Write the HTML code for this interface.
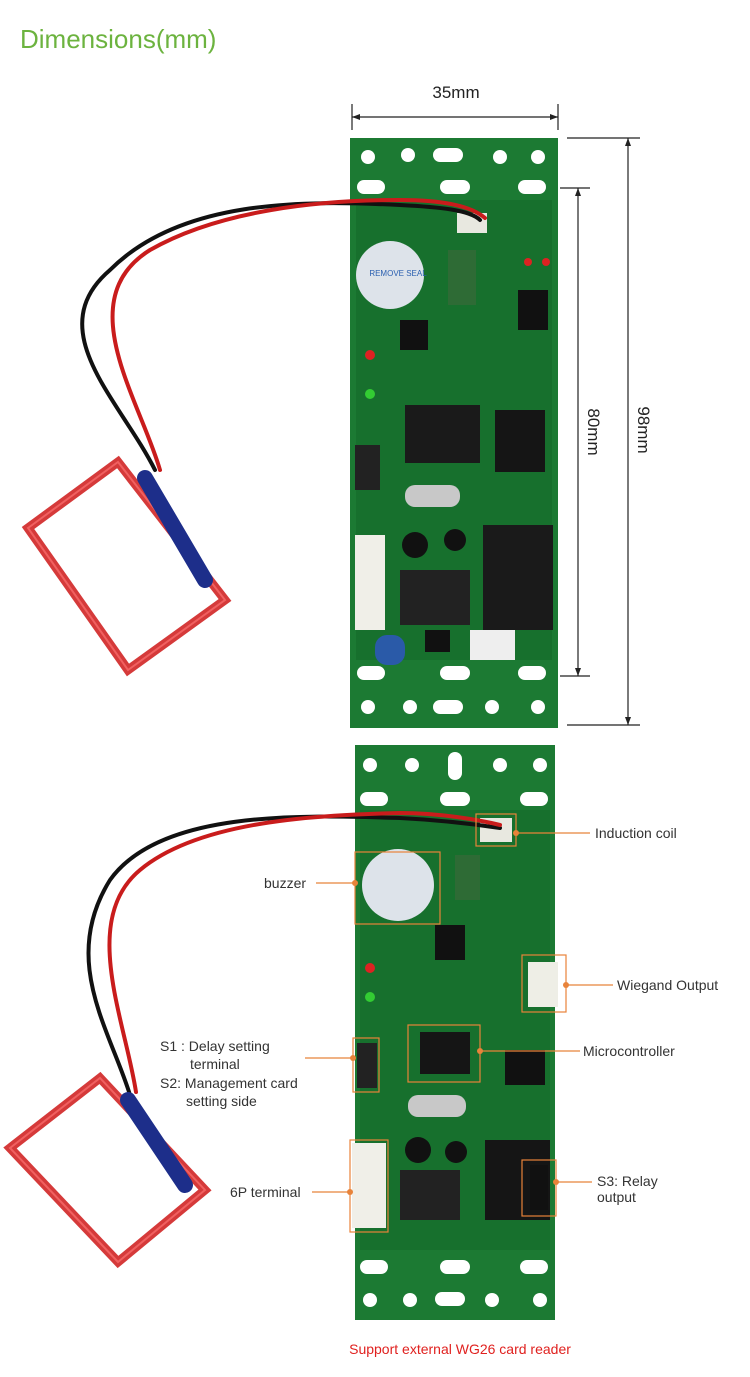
<!DOCTYPE html>
<html><head><meta charset="utf-8"><style>
html,body{margin:0;padding:0;background:#fff;}
svg{display:block;font-family:"Liberation Sans",sans-serif;}
</style></head><body>
<svg width="750" height="1377" viewBox="0 0 750 1377" xmlns="http://www.w3.org/2000/svg">
<text x="20" y="48" font-size="26" fill="#6cb33f">Dimensions(mm)</text>

<!-- dimension lines -->
<g stroke="#222" stroke-width="1.2" fill="none">
<line x1="352" y1="104" x2="352" y2="130"/><line x1="558" y1="104" x2="558" y2="130"/>
<line x1="352" y1="117" x2="558" y2="117"/>
<line x1="567" y1="138" x2="640" y2="138"/><line x1="567" y1="725" x2="640" y2="725"/>
<line x1="628" y1="138" x2="628" y2="725"/>
<line x1="560" y1="188" x2="590" y2="188"/><line x1="560" y1="676" x2="590" y2="676"/>
<line x1="578" y1="188" x2="578" y2="676"/>
</g>
<g fill="#222">
<polygon points="352,117 360,114 360,120"/><polygon points="558,117 550,114 550,120"/>
<polygon points="628,138 625,146 631,146"/><polygon points="628,725 625,717 631,717"/>
<polygon points="578,188 575,196 581,196"/><polygon points="578,676 575,668 581,668"/>
</g>
<text x="456" y="98" font-size="17" text-anchor="middle" fill="#222">35mm</text>
<text transform="translate(638,430) rotate(90)" font-size="17" text-anchor="middle" fill="#222">98mm</text>
<text transform="translate(588,432) rotate(90)" font-size="17" text-anchor="middle" fill="#222">80mm</text>

<!-- top board -->
<rect x="350" y="138" width="208" height="590" fill="#1c7a33"/>
<rect x="356" y="200" width="196" height="460" fill="#17702d"/>
<g fill="#fff">
<circle cx="368" cy="157" r="7"/><circle cx="408" cy="155" r="7"/><rect x="433" y="148" width="30" height="14" rx="7"/><circle cx="500" cy="157" r="7"/><circle cx="538" cy="157" r="7"/>
<rect x="357" y="180" width="28" height="14" rx="7"/><rect x="440" y="180" width="30" height="14" rx="7"/><rect x="518" y="180" width="28" height="14" rx="7"/>
<rect x="357" y="666" width="28" height="14" rx="7"/><rect x="440" y="666" width="30" height="14" rx="7"/><rect x="518" y="666" width="28" height="14" rx="7"/>
<circle cx="368" cy="707" r="7"/><circle cx="410" cy="707" r="7"/><rect x="433" y="700" width="30" height="14" rx="7"/><circle cx="492" cy="707" r="7"/><circle cx="538" cy="707" r="7"/>
</g>
<circle cx="390" cy="275" r="34" fill="#dde3ea"/>
<text x="398" y="276" font-size="8" fill="#2a5fb0" text-anchor="middle">REMOVE SEAL</text>
<rect x="448" y="250" width="28" height="55" fill="#2e6b35"/>
<rect x="457" y="213" width="30" height="20" fill="#e8e8e0"/>
<rect x="405" y="405" width="75" height="58" fill="#1a1a1a"/>
<rect x="495" y="410" width="50" height="62" fill="#151515"/>
<rect x="405" y="485" width="55" height="22" rx="10" fill="#c8c8c8"/>
<rect x="355" y="445" width="25" height="45" fill="#222"/>
<rect x="355" y="535" width="30" height="95" fill="#f0efe8"/>
<circle cx="415" cy="545" r="13" fill="#111"/><circle cx="455" cy="540" r="11" fill="#111"/>
<rect x="400" y="570" width="70" height="55" fill="#222"/>
<rect x="483" y="525" width="70" height="105" fill="#1a1a1a"/>
<rect x="470" y="630" width="45" height="30" fill="#eee"/>
<rect x="375" y="635" width="30" height="30" rx="12" fill="#2a5aa8"/>
<rect x="425" y="630" width="25" height="22" fill="#111"/>
<rect x="400" y="320" width="28" height="30" fill="#111"/>
<rect x="518" y="290" width="30" height="40" fill="#111"/>
<circle cx="370" cy="355" r="5" fill="#d22"/><circle cx="370" cy="394" r="5" fill="#3c3"/>
<circle cx="546" cy="262" r="4" fill="#d22"/><circle cx="528" cy="262" r="4" fill="#d22"/>

<!-- top coil -->
<g fill="none" stroke-linecap="round">
<polygon points="28,528 118,462 225,600 128,670" stroke="#d53a3a" stroke-width="9"/>
<polygon points="28,528 118,462 225,600 128,670" stroke="#f06060" stroke-width="2"/>
<path d="M155,470 C120,400 40,330 110,270 C180,200 300,200 400,205 C440,207 470,210 480,220" stroke="#111" stroke-width="4"/>
<path d="M160,470 C140,400 70,300 150,250 C220,210 320,200 400,200 C440,200 470,205 485,218" stroke="#c91c1c" stroke-width="4"/>
<path d="M145,478 L205,580" stroke="#1d2e8a" stroke-width="16"/>
</g>

<!-- bottom board -->
<rect x="355" y="745" width="200" height="575" fill="#1c7a33"/>
<rect x="360" y="810" width="190" height="440" fill="#17702d"/>
<g fill="#fff">
<circle cx="370" cy="765" r="7"/><circle cx="412" cy="765" r="7"/><rect x="448" y="752" width="14" height="28" rx="7"/><circle cx="500" cy="765" r="7"/><circle cx="540" cy="765" r="7"/>
<rect x="360" y="792" width="28" height="14" rx="7"/><rect x="440" y="792" width="30" height="14" rx="7"/><rect x="520" y="792" width="28" height="14" rx="7"/>
<rect x="360" y="1260" width="28" height="14" rx="7"/><rect x="440" y="1260" width="30" height="14" rx="7"/><rect x="520" y="1260" width="28" height="14" rx="7"/>
<circle cx="370" cy="1300" r="7"/><circle cx="410" cy="1300" r="7"/><rect x="435" y="1292" width="30" height="14" rx="7"/><circle cx="492" cy="1300" r="7"/><circle cx="540" cy="1300" r="7"/>
</g>
<circle cx="398" cy="885" r="36" fill="#dde3ea"/>
<rect x="455" y="855" width="25" height="45" fill="#2e6b35"/>
<rect x="480" y="818" width="32" height="24" fill="#e8e8e0"/>
<rect x="528" y="962" width="30" height="45" fill="#eeeee6"/>
<rect x="420" y="1032" width="50" height="42" fill="#151515"/>
<rect x="505" y="1050" width="40" height="35" fill="#111"/>
<rect x="408" y="1095" width="58" height="22" rx="10" fill="#c8c8c8"/>
<rect x="357" y="1043" width="20" height="45" fill="#222"/>
<rect x="352" y="1143" width="34" height="85" fill="#f0efe8"/>
<circle cx="418" cy="1150" r="13" fill="#111"/><circle cx="456" cy="1152" r="11" fill="#111"/>
<rect x="400" y="1170" width="60" height="50" fill="#222"/>
<rect x="485" y="1140" width="65" height="80" fill="#151515"/>
<rect x="530" y="1165" width="18" height="45" fill="#111"/>
<rect x="435" y="925" width="30" height="35" fill="#111"/>
<circle cx="370" cy="968" r="5" fill="#d22"/><circle cx="370" cy="997" r="5" fill="#3c3"/>

<!-- bottom coil -->
<g fill="none" stroke-linecap="round">
<polygon points="10,1148 100,1078 205,1190 118,1262" stroke="#d53a3a" stroke-width="9"/>
<polygon points="10,1148 100,1078 205,1190 118,1262" stroke="#f06060" stroke-width="2"/>
<path d="M130,1095 C110,1030 60,960 110,880 C160,810 300,815 400,818 C440,820 480,825 500,828" stroke="#111" stroke-width="4"/>
<path d="M136,1092 C125,1020 80,920 140,870 C200,820 320,815 400,813 C440,813 480,820 500,825" stroke="#c91c1c" stroke-width="4"/>
<path d="M128,1100 L185,1185" stroke="#1d2e8a" stroke-width="16"/>
</g>

<!-- annotation boxes -->
<g fill="none" stroke="#e8833a" stroke-width="1.2">
<rect x="476" y="814" width="40" height="32"/>
<rect x="355" y="852" width="85" height="72"/>
<rect x="522" y="955" width="44" height="57"/>
<rect x="408" y="1025" width="72" height="57"/>
<rect x="353" y="1038" width="26" height="54"/>
<rect x="350" y="1140" width="38" height="92"/>
<rect x="522" y="1160" width="34" height="56"/>
<line x1="516" y1="833" x2="590" y2="833"/>
<line x1="316" y1="883" x2="355" y2="883"/>
<line x1="566" y1="985" x2="613" y2="985"/>
<line x1="480" y1="1051" x2="580" y2="1051"/>
<line x1="305" y1="1058" x2="353" y2="1058"/>
<line x1="312" y1="1192" x2="350" y2="1192"/>
<line x1="556" y1="1182" x2="592" y2="1182"/>
</g>
<g fill="#e8833a">
<circle cx="516" cy="833" r="3"/><circle cx="355" cy="883" r="3"/><circle cx="566" cy="985" r="3"/>
<circle cx="480" cy="1051" r="3"/><circle cx="353" cy="1058" r="3"/><circle cx="350" cy="1192" r="3"/><circle cx="556" cy="1182" r="3"/>
</g>
<g font-size="14" fill="#333">
<text x="595" y="838">Induction coil</text>
<text x="264" y="888">buzzer</text>
<text x="617" y="990">Wiegand Output</text>
<text x="583" y="1056">Microcontroller</text>
<text x="160" y="1051">S1 : Delay setting</text>
<text x="190" y="1069">terminal</text>
<text x="160" y="1088">S2: Management card</text>
<text x="186" y="1106">setting side</text>
<text x="230" y="1197">6P terminal</text>
<text x="597" y="1186">S3: Relay</text>
<text x="597" y="1202">output</text>
</g>
<text x="460" y="1354" font-size="14" fill="#e0211f" text-anchor="middle">Support external WG26 card reader</text>
</svg>
</body></html>
